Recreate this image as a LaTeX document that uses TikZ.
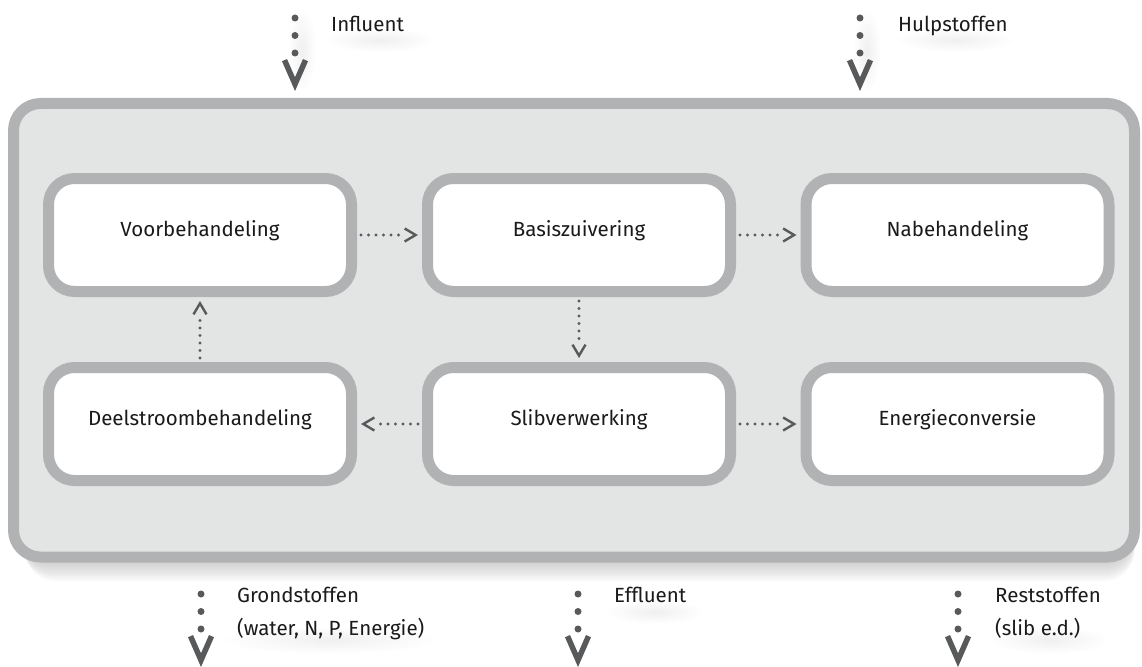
\documentclass[tikz,border=0pt]{standalone}
\usepackage{fontspec}
\setmainfont{Fira Sans}
\usetikzlibrary{arrows.meta,calc}
\definecolor{boxgray}{HTML}{B1B2B4}
\definecolor{panelfill}{HTML}{E3E4E4}
\definecolor{arrowgray}{HTML}{58595B}
\definecolor{txt}{HTML}{1A1A1A}
\begin{document}
\begin{tikzpicture}[x=1pt,y=-1pt,
  stage/.style={draw=boxgray, line width=11pt, fill=white, rounded corners=26pt,
    minimum width=303pt, minimum height=113pt, inner sep=0pt, text=txt,
    font=\fontsize{20.5}{24}\selectfont, text height=12pt, text depth=10pt},
  panel/.style={draw=boxgray, line width=11pt, fill=panelfill, rounded corners=27pt,
    minimum width=1121pt, minimum height=453.5pt, inner sep=0pt},
  flow/.style={draw=arrowgray, line width=3.2pt, line cap=round,
    dash pattern=on 0pt off 7.5pt on 0pt off 7.5pt on 0pt off 7.5pt on 0pt off 7.5pt on 0pt off 7.5pt on 0pt off 100pt,
    -{Straight Barb[length=11pt,width=13pt,line width=2.4pt]}},
  feed/.style={draw=arrowgray, line width=7pt, line cap=round,
    dash pattern=on 0pt off 17.5pt on 0pt off 17.5pt on 0pt off 200pt,
    -{Straight Barb[length=24pt,width=21pt,line width=5.5pt]}},
  lab/.style={anchor=base west, text=txt, inner sep=0pt,
    font=\fontsize{20.5}{33}\selectfont},
  shadowbox/.style={fill=black, opacity=0.025, rounded corners=30pt},
  haze/.style={inner color=black!6, outer color=white}
]
\useasboundingbox (0,0) rectangle (1142,666);
% soft hazes behind the outer labels
\shade[haze] (302,50) ellipse [x radius=14pt, y radius=42pt];
\shade[haze] (380,40) ellipse [x radius=55pt, y radius=12pt];
\shade[haze] (867,50) ellipse [x radius=14pt, y radius=42pt];
\shade[haze] (955,40) ellipse [x radius=60pt, y radius=12pt];
\shade[haze] (330,640) ellipse [x radius=110pt, y radius=14pt];
\shade[haze] (655,612) ellipse [x radius=50pt, y radius=12pt];
\shade[haze] (1050,640) ellipse [x radius=60pt, y radius=14pt];
% drop shadow of the panel
\foreach \k in {1,...,10}{
  \fill[shadowbox] (13.5+\k*1.2,103.5+\k*1.5) rectangle (1134.5,557+\k*2.4);
}
\node[panel] (panel) at (574,330.25) {};

\node[stage] (vb) at (200,235) {Voorbehandeling};
\node[stage] (bz) at (579,235) {Basiszuivering};
\node[stage] (nb) at (957.5,235) {Nabehandeling};
\node[stage] (ds) at (200,424) {Deelstroombehandeling};
\node[stage] (sv) at (579,424) {Slibverwerking};
\node[stage] (ec) at (957.5,424) {Energieconversie};

\draw[flow, shorten <=4pt, shorten >=4pt] (vb) -- (bz);
\draw[flow, shorten <=4pt, shorten >=4pt] (bz) -- (nb);
\draw[flow, shorten <=4pt, shorten >=4pt] (sv) -- (ds);
\draw[flow, shorten <=4pt, shorten >=4pt] (sv) -- (ec);
\draw[flow, shorten <=4pt, shorten >=4pt] (bz) -- (sv);
\draw[flow, shorten <=4pt, shorten >=4pt] (ds) -- (vb);

% inputs
\coordinate (inA) at (295,18);   \coordinate (inB) at (295,91);
\coordinate (hpA) at (860,18);   \coordinate (hpB) at (860,91);
\draw[feed] (inA) -- (inB);
\draw[feed] (hpA) -- (hpB);
\node[lab] (influent) at (331,32) {Influent};
\node[lab] (hulp) at (898,32) {Hulpstoffen};

% outputs
\coordinate (gsA) at (201,594);  \coordinate (gsB) at (201,667);
\coordinate (efA) at (578,594);  \coordinate (efB) at (578,667);
\coordinate (rsA) at (958,594);  \coordinate (rsB) at (958,667);
\draw[feed] (gsA) -- (gsB);
\draw[feed] (efA) -- (efB);
\draw[feed] (rsA) -- (rsB);
\node[lab] (grond) at (237,602) {\vtop{\hbox{Grondstoffen}\hbox{(water, N, P, Energie)}}};
\node[lab] (effl) at (614,602) {Effluent};
\node[lab] (rest) at (995,602) {\vtop{\hbox{Reststoffen}\hbox{(slib e.d.)}}};
\end{tikzpicture}
\end{document}
